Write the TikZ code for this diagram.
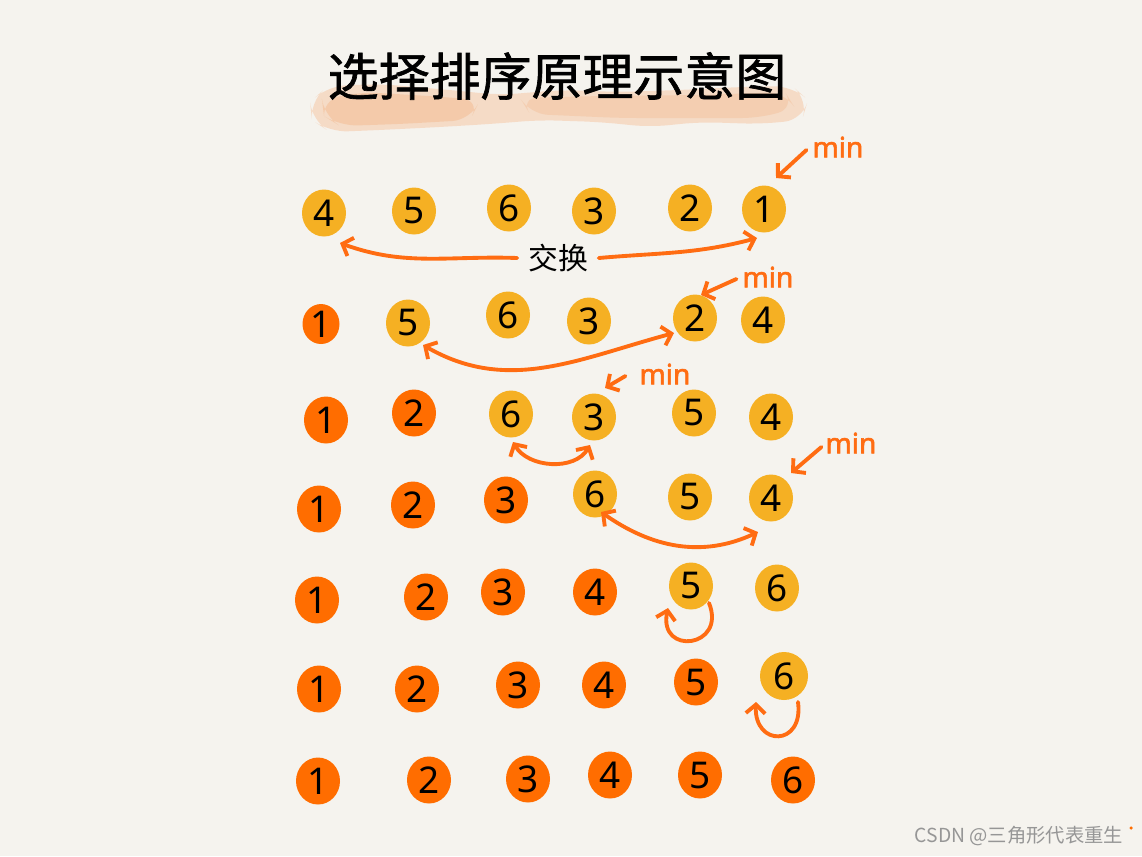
\documentclass[tikz,border=0pt]{standalone}
\usepackage{fontspec}
\setmainfont{Noto Sans}
\newfontfamily\cjk{Noto Sans CJK SC}
\newfontfamily\cjkbold[FakeBold=1.3]{Noto Sans CJK SC}
\newfontfamily\minfont[FakeBold=2]{Noto Sans}
\usetikzlibrary{shapes.geometric,arrows.meta,calc}
\definecolor{bgcol}{RGB}{245,243,238}
\definecolor{yelcol}{RGB}{245,176,35}
\definecolor{orgcol}{RGB}{255,109,0}
\definecolor{arrcol}{RGB}{255,108,18}
\definecolor{brushcol}{RGB}{246,200,166}
\definecolor{brushdark}{RGB}{243,178,130}
\definecolor{wmcol}{RGB}{150,150,150}
\begin{document}
\begin{tikzpicture}[x=0.02cm,y=-0.02cm,
 ball/.style={ellipse,inner sep=0pt,minimum width=0.88cm,minimum height=0.94cm,font=\fontsize{21}{21}\selectfont},
 yb/.style={ball,fill=yelcol},
 ob/.style={ball,fill=orgcol},
 swaparrow/.style={draw=arrcol,line width=2.2pt,line cap=round,line join=round,{Straight Barb[length=5pt,width=11pt]}-{Straight Barb[length=5pt,width=11pt]}},
 onearrow/.style={draw=arrcol,line width=2.2pt,line cap=round,line join=round,-{Straight Barb[length=5pt,width=11pt]}},
 mintext/.style={text=arrcol,font=\minfont\fontsize{16}{16}\selectfont,inner sep=1pt},
]
\useasboundingbox (0,0) rectangle (1142,856);
\fill[bgcol] (0,0) rectangle (1142,856);

% brush stroke under title
\fill[brushcol,opacity=0.55,rounded corners=10] (310,102) -- (328,86) -- (380,84) -- (450,90) -- (500,95) -- (560,90) -- (620,92) -- (680,90) -- (740,87) -- (792,86) -- (808,100) -- (802,120) -- (760,124) -- (700,122) -- (650,127) -- (600,122) -- (540,120) -- (490,124) -- (440,127) -- (380,130) -- (330,132) -- (312,120) -- cycle;
\fill[brushdark,opacity=0.4,rounded corners=10] (322,100) -- (360,92) -- (430,96) -- (480,100) -- (470,120) -- (400,124) -- (340,126) -- (324,116) -- cycle;
\fill[brushdark,opacity=0.3,rounded corners=10] (520,98) -- (600,96) -- (700,95) -- (785,92) -- (795,108) -- (760,118) -- (690,118) -- (620,118) -- (530,114) -- cycle;

\node[font=\cjkbold\fontsize{29}{29}\selectfont] (title) at (557,76) {选择排序原理示意图};

% row 1
\node[yb] (r11) at (324,213) {4};
\node[yb] (r12) at (414,211) {5};
\node[yb] (r13) at (509,208) {6};
\node[yb] (r14) at (594,211) {3};
\node[yb] (r15) at (690,208) {2};
\node[yb] (r16) at (764,209) {1};
% row 2
\node[ob,minimum width=0.74cm,minimum height=0.8cm] (r21) at (321,324) {1};
\node[yb] (r22) at (408,323) {5};
\node[yb] (r23) at (508,315) {6};
\node[yb] (r24) at (589,321) {3};
\node[yb] (r25) at (695,318) {2};
\node[yb] (r26) at (763,320) {4};
% row 3
\node[ob] (r31) at (326,420) {1};
\node[ob] (r32) at (414,413) {2};
\node[yb] (r33) at (511,414) {6};
\node[yb] (r34) at (594,417) {3};
\node[yb] (r35) at (694,413) {5};
\node[yb] (r36) at (771,417) {4};
% row 4
\node[ob] (r41) at (319,509) {1};
\node[ob] (r42) at (413,505) {2};
\node[ob] (r43) at (506,500) {3};
\node[yb] (r44) at (595,494) {6};
\node[yb] (r45) at (690,497) {5};
\node[yb] (r46) at (771,498) {4};
% row 5
\node[ob] (r51) at (317,600) {1};
\node[ob] (r52) at (426,597) {2};
\node[ob] (r53) at (503,592) {3};
\node[ob] (r54) at (595,592) {4};
\node[yb] (r55) at (691,586) {5};
\node[yb] (r56) at (777,588) {6};
% row 6
\node[ob] (r61) at (319,689) {1};
\node[ob] (r62) at (417,689) {2};
\node[ob] (r63) at (518,685) {3};
\node[ob] (r64) at (604,685) {4};
\node[ob] (r65) at (696,682) {5};
\node[yb,minimum width=0.96cm,minimum height=0.96cm] (r66) at (784,676) {6};
% row 7
\node[ob] (r71) at (318,781) {1};
\node[ob] (r72) at (429,780) {2};
\node[ob] (r73) at (528,779) {3};
\node[ob] (r74) at (610,775) {4};
\node[ob] (r75) at (700,775) {5};
\node[ob] (r76) at (793,780) {6};

% min labels
\node[mintext] (m1) at (838,147) {min};
\node[mintext] (m2) at (768,277) {min};
\node[mintext] (m3) at (665,374) {min};
\node[mintext] (m4) at (851,443) {min};
\draw[onearrow] ([shift={(-4,3)}]m1.west) -- ([shift={(12,-31)}]r16.center);
\draw[onearrow] ([shift={(-4,2)}]m2.west) -- ([shift={(6,-23)}]r25.center);
\draw[onearrow] ([shift={(-12,2)}]m3.west) -- ([shift={(11,-29)}]r34.center);
\draw[onearrow] ([shift={(-2,4)}]m4.west) -- ([shift={(20,-25)}]r46.center);

% swap label row 1
\node[font=\cjk\fontsize{17}{17}\selectfont,inner sep=6pt] (sw) at (558,258) {交换};
\draw[onearrow] (sw.west) to[out=178,in=-20] ([shift={(16,30)}]r11.center);
\draw[onearrow] (sw.east) to[out=5,in=195] ([shift={(-7,29)}]r16.center);

% swap arrows
\draw[swaparrow] ([shift={(15,22)}]r22.center) to[out=-30,in=195] ([shift={(-21,15)}]r25.center);
\draw[swaparrow] ([shift={(2,28)}]r33.center) to[out=-60,in=240] ([shift={(-4,28)}]r34.center);
\draw[swaparrow] ([shift={(6,18)}]r44.center) to[out=-35,in=205] ([shift={(-13,34)}]r46.center);

% self loops
\draw[onearrow] ([shift={(18,17)}]r55.center) .. controls +(18,45) and +(-10,48) .. ([shift={(-23,22)}]r55.center);
\draw[onearrow] ([shift={(14,26)}]r66.center) .. controls +(6,45) and +(-2,45) .. ([shift={(-28,26)}]r66.center);

% watermark
\node[font=\cjk\fontsize{11}{11}\selectfont,text=wmcol] (wm) at (1019,836) {CSDN @三角形代表重生};
\node[circle,fill=orgcol,inner sep=0pt,minimum size=0.07cm] (dot) at (1131,828) {};
\end{tikzpicture}
\end{document}
